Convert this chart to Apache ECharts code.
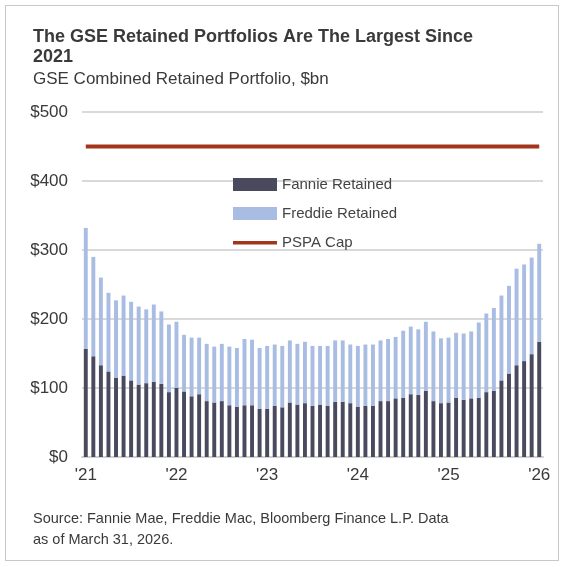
<!DOCTYPE html>
<html><head><meta charset="utf-8">
<script src="https://cdn.jsdelivr.net/npm/echarts@6/dist/echarts.min.js"></script>
<style>html,body{margin:0;padding:0;background:#fff}#c{width:565px;height:567px}
#b{position:absolute;left:5px;top:5px;width:552px;height:554px;border:1px solid #c8c8c8;pointer-events:none}</style>
</head><body><div id="c"></div><div id="b"></div>
<script>
const yearLabels = ["'21","'22","'23","'24","'25","'26"];
const months = [];
for (let y = 0; y < 6; y++) for (let m = 0; m < 12; m++) if (months.length < 61) months.push(m === 0 ? yearLabels[y] : '');
const totals = [332,290,260,238,227,234,225,218,214,221,211,192,196,177,173,173,164,160,164,160,158,171,170,158,161,163,161,169,164,167,161,161,161,169,169,163,161,163,163,169,171,174,183,189,185,196,182,172,173,180,179,182,195,208,216,234,248,273,279,289,309];
const fannie = [157,146,133,124,115,118,111,105,107,109,106,94,100,95,88,91,81,79,81,75,73,75,75,70,70,74,72,79,76,78,74,76,74,80,80,78,73,74,74,81,81,85,86,91,90,96,81,78,79,86,83,85,86,94,96,111,121,133,139,149,167];
const freddie = totals.map((t,i)=>t-fannie[i]);
const cap = months.map(()=>450);
const ff = 'Liberation Sans, Arial, sans-serif';
const chart = echarts.init(document.getElementById('c'));
chart.setOption({
  animation:false,
  title:[{text:'The GSE Retained Portfolios Are The Largest Since\n2021',left:28,top:22,textStyle:{fontFamily:ff,fontSize:18,fontWeight:'bold',color:'#3a3a3a',lineHeight:20}},
         {text:'GSE Combined Retained Portfolio, $bn',left:28,top:66,textStyle:{fontFamily:ff,fontSize:17,fontWeight:'normal',color:'#3a3a3a'}},
         {text:'Source: Fannie Mae, Freddie Mac, Bloomberg Finance L.P. Data\nas of March 31, 2026.',left:28,top:503,textStyle:{fontFamily:ff,fontSize:14.5,fontWeight:'normal',color:'#3a3a3a',lineHeight:21}}],
  legend:{orient:'vertical',left:228,top:172,itemGap:14,itemWidth:44,itemHeight:13,textStyle:{fontFamily:ff,fontSize:15,color:'#444'},
    data:[{name:'Fannie Retained',icon:'rect'},{name:'Freddie Retained',icon:'rect'},
          {name:'PSPA Cap',icon:'path://M0,0L0.01,0L0.01,0.01Z M0,5L44,5L44,8.5L0,8.5Z M0,13L0.01,13L0.01,13.01Z'}]},
  grid:{left:82,right:22,top:112,bottom:110},
  xAxis:{type:'category',data:months,axisTick:{show:false},axisLine:{lineStyle:{color:'#d0d0d0',width:2}},
    axisLabel:{interval:0,color:'#3a3a3a',fontFamily:ff,fontSize:17,margin:10}},
  yAxis:{type:'value',min:0,max:500,interval:100,axisLabel:{formatter:'${value}',color:'#3a3a3a',fontFamily:ff,fontSize:17,margin:14},
    splitLine:{lineStyle:{color:'#d9d9d9',width:2}}},
  series:[
    {name:'Fannie Retained',type:'bar',stack:'a',data:fannie,barWidth:'52%',itemStyle:{color:'#4a4a5e'}},
    {name:'Freddie Retained',type:'bar',stack:'a',data:freddie,itemStyle:{color:'#a9bde3'}},
    {name:'PSPA Cap',type:'line',data:cap,symbol:'none',lineStyle:{color:'#a3351a',width:4},itemStyle:{color:'#a3351a'}}
  ]
});
</script></body></html>
